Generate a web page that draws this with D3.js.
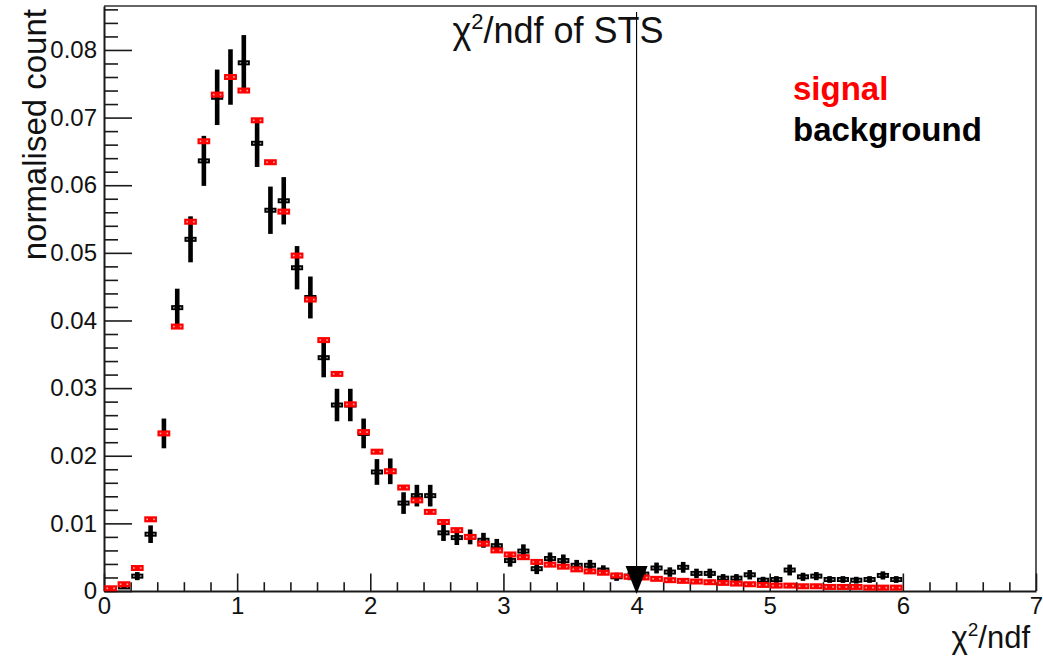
<!DOCTYPE html>
<html>
<head>
<meta charset="utf-8">
<script src="https://cdn.jsdelivr.net/npm/d3@7"></script>
<style>
  html, body { margin: 0; padding: 0; background: #fff; }
  svg { display: block; font-family: "Liberation Sans", Arial, Helvetica, sans-serif; }
</style>
</head>
<body>
<svg id="chart" width="1043" height="660"></svg>
<script>
// Histogram binning: 60 bins of width 0.1 on [0, 6]
const binStart = 0;
const binWidth = 0.1;

// Normalised counts per bin, signal sample
const signalValues = [
  0.0004, 0.0010, 0.0034, 0.0106, 0.0233, 0.0391, 0.0546, 0.0665, 0.0734, 0.0760,
  0.0740, 0.0696, 0.0634, 0.0561, 0.0496, 0.0431, 0.0371, 0.0321, 0.0276, 0.0235,
  0.0206, 0.0177, 0.0153, 0.0134, 0.0117, 0.0102, 0.0090, 0.0080, 0.0070, 0.0060,
  0.0054, 0.0050, 0.0043, 0.0039, 0.0036, 0.0032, 0.0029, 0.0027, 0.0023, 0.0021,
  0.0020, 0.0018, 0.0016, 0.0015, 0.0014, 0.0013, 0.0012, 0.0011, 0.0010, 0.0009,
  0.0008, 0.0008, 0.0007, 0.0007, 0.0006, 0.0006, 0.0006, 0.0005, 0.0005, 0.0005
];

// Normalised counts per bin, background sample
const backgroundValues = [
  0.0002, 0.0006, 0.0022, 0.0084, 0.0233, 0.0419, 0.0520, 0.0636, 0.0730, 0.0760,
  0.0781, 0.0662, 0.0563, 0.0577, 0.0478, 0.0434, 0.0345, 0.0275, 0.0275, 0.0233,
  0.0176, 0.0177, 0.0130, 0.0141, 0.0141, 0.0086, 0.0079, 0.0080, 0.0075, 0.0067,
  0.0045, 0.0059, 0.0033, 0.0048, 0.0045, 0.0038, 0.0038, 0.0031, 0.0021, 0.0022,
  0.0025, 0.0034, 0.0028, 0.0035, 0.0026, 0.0026, 0.0019, 0.0019, 0.0024, 0.0016,
  0.0017, 0.0031, 0.0021, 0.0022, 0.0017, 0.0017, 0.0016, 0.0017, 0.0023, 0.0017
];

// Statistical errors on the background counts
const backgroundErrors = [
  0.0002, 0.0003, 0.0006, 0.0013, 0.0022, 0.0028, 0.0034, 0.0037, 0.0041, 0.0041,
  0.0041, 0.0035, 0.0035, 0.0035, 0.0032, 0.0031, 0.0029, 0.0024, 0.0024, 0.0022,
  0.0019, 0.0019, 0.0016, 0.0016, 0.0016, 0.0012, 0.0011, 0.0011, 0.0011, 0.0010,
  0.0009, 0.0010, 0.0008, 0.0009, 0.0009, 0.0008, 0.0008, 0.0007, 0.0006, 0.0006,
  0.0007, 0.0008, 0.0007, 0.0008, 0.0007, 0.0007, 0.0006, 0.0006, 0.0007, 0.0005,
  0.0005, 0.0008, 0.0006, 0.0006, 0.0005, 0.0005, 0.0005, 0.0005, 0.0006, 0.0005
];

// Axis ranges and tick values
const xRange = [0, 7];
const yRange = [0, 0.0865];
const xMajorTicks = [0, 1, 2, 3, 4, 5, 6, 7];
const yMajorTicks = [0, 0.01, 0.02, 0.03, 0.04, 0.05, 0.06, 0.07, 0.08];
const xMinorStep = 0.2;
const yMinorStep = 0.002;

// Selection cut on chi2/ndf
const cutValue = 4;

const svg = d3.select("#chart");
const frameL = 104, frameR = 1036, frameT = 6, frameB = 591;

const x = d3.scaleLinear().domain(xRange).range([frameL, frameR]);
const y = d3.scaleLinear().domain(yRange).range([frameB, frameT]);

const axisColor = "#1a1a1a";

// frame (top and right edges)
svg.append("path")
  .attr("d", `M${frameL},${frameT}H${frameR}V${frameB}`)
  .attr("fill", "none")
  .attr("stroke", "#333")
  .attr("stroke-width", 1.6);

// minor ticks
const xMinor = d3.range(xRange[0], xRange[1] + 1e-9, xMinorStep)
  .filter(v => Math.abs(v - Math.round(v)) > 1e-6);
const yMinor = d3.range(yRange[0], yRange[1], yMinorStep)
  .filter(v => Math.abs(v * 100 - Math.round(v * 100)) > 1e-6);

svg.append("g")
  .attr("transform", `translate(0,${frameB})`)
  .call(d3.axisBottom(x).tickValues(xMinor).tickSize(-8.8).tickSizeOuter(0).tickFormat(""))
  .call(g => g.select(".domain").remove())
  .call(g => g.selectAll("line").attr("stroke", axisColor).attr("stroke-width", 1.6));

svg.append("g")
  .attr("transform", `translate(${frameL},0)`)
  .call(d3.axisLeft(y).tickValues(yMinor).tickSize(-14).tickSizeOuter(0).tickFormat(""))
  .call(g => g.select(".domain").remove())
  .call(g => g.selectAll("line").attr("stroke", axisColor).attr("stroke-width", 1.6));

// major ticks and labels
const xAxis = svg.append("g")
  .attr("transform", `translate(0,${frameB})`)
  .call(d3.axisBottom(x).tickValues(xMajorTicks).tickSize(-17.5).tickSizeOuter(0).tickPadding(6)
    .tickFormat(d3.format("d")));
xAxis.select(".domain").attr("stroke", axisColor).attr("stroke-width", 2);
xAxis.selectAll("line").attr("stroke", axisColor).attr("stroke-width", 1.6);
xAxis.selectAll("text").attr("font-size", 24).attr("fill", "#111")
  .attr("font-family", "Liberation Sans, Arial, sans-serif");

const yAxis = svg.append("g")
  .attr("transform", `translate(${frameL},0)`)
  .call(d3.axisLeft(y).tickValues(yMajorTicks).tickSize(-28).tickSizeOuter(0).tickPadding(7)
    .tickFormat(d => d === 0 ? "0" : d.toFixed(2)));
yAxis.select(".domain").attr("stroke", axisColor).attr("stroke-width", 2);
yAxis.selectAll("line").attr("stroke", axisColor).attr("stroke-width", 1.6);
yAxis.selectAll("text").attr("font-size", 24).attr("fill", "#111")
  .attr("font-family", "Liberation Sans, Arial, sans-serif");

// bins
const binCenter = i => binStart + (i + 0.5) * binWidth;
const halfBinPx = (x(binWidth) - x(0)) / 2;

const bg = backgroundValues.map((v, i) => ({ c: binCenter(i), v, e: backgroundErrors[i] }));
const sg = signalValues.map((v, i) => ({ c: binCenter(i), v }));

// background: thick vertical error bars + horizontal bin-width bars
const bgG = svg.append("g");
bgG.selectAll("rect.ey").data(bg).join("rect")
  .attr("class", "ey")
  .attr("x", d => x(d.c) - 2.3)
  .attr("width", 4.6)
  .attr("y", d => y(d.v + d.e))
  .attr("height", d => Math.max(0, y(d.v - d.e) - y(d.v + d.e)))
  .attr("fill", "#000");
bgG.selectAll("rect.ex").data(bg).join("rect")
  .attr("class", "ex")
  .attr("x", d => x(d.c) - halfBinPx + 0.6)
  .attr("width", 2 * halfBinPx - 1.2)
  .attr("y", d => y(d.v) - 2.5)
  .attr("height", 5)
  .attr("fill", "#000");

// signal: horizontal bin-width bars
const sgG = svg.append("g");
sgG.selectAll("rect.ex").data(sg).join("rect")
  .attr("class", "ex")
  .attr("x", d => x(d.c) - halfBinPx + 0.3)
  .attr("width", 2 * halfBinPx - 0.6)
  .attr("y", d => y(d.v) - 3)
  .attr("height", 6)
  .attr("fill", "#ff0000");

// small light dots inside each marker
[[bgG, bg, "#9a9a9a"], [sgG, sg, "#ffb0b0"]].forEach(([g, data, col]) => {
  [-3.4, 3.4].forEach(off => {
    g.selectAll(null).data(data).join("rect")
      .attr("x", d => x(d.c) + off - 0.8)
      .attr("y", d => y(d.v) - 0.8)
      .attr("width", 1.6)
      .attr("height", 1.6)
      .attr("fill", col);
  });
});

// cut line with arrow head
const cx = x(cutValue);
svg.append("line")
  .attr("x1", cx).attr("x2", cx)
  .attr("y1", 12).attr("y2", 570)
  .attr("stroke", "#000").attr("stroke-width", 1.1);
svg.append("path")
  .attr("d", `M${cx - 11},${566}L${cx + 11},${566}L${cx},${594}Z`)
  .attr("fill", "#000");

// title
const title = svg.append("text")
  .attr("x", 558).attr("y", 43)
  .attr("text-anchor", "middle")
  .attr("font-size", 36)
  .attr("fill", "#111");
title.append("tspan").text("χ");
title.append("tspan").attr("font-size", 22).attr("dy", -14).text("2");
title.append("tspan").attr("dy", 14).text("/ndf of STS");

// axis titles
const xTitle = svg.append("text")
  .attr("x", 1030).attr("y", 648)
  .attr("text-anchor", "end")
  .attr("font-size", 31)
  .attr("fill", "#111");
xTitle.append("tspan").text("χ");
xTitle.append("tspan").attr("font-size", 19).attr("dy", -12).text("2");
xTitle.append("tspan").attr("dy", 12).text("/ndf");

svg.append("text")
  .attr("transform", "translate(46,9) rotate(-90)")
  .attr("text-anchor", "end")
  .attr("font-size", 33)
  .attr("fill", "#111")
  .text("normalised count");

// legend
svg.append("text")
  .attr("x", 793).attr("y", 100)
  .attr("font-size", 33).attr("font-weight", "bold")
  .attr("fill", "#ff0000")
  .text("signal");
svg.append("text")
  .attr("x", 793).attr("y", 141)
  .attr("font-size", 33).attr("font-weight", "bold")
  .attr("fill", "#000")
  .text("background");
</script>
</body>
</html>
